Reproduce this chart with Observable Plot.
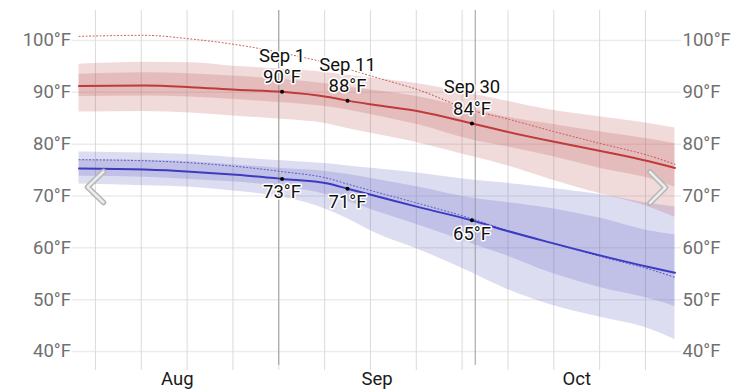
<!DOCTYPE html>
<html><head><meta charset="utf-8">
<script src="https://cdn.jsdelivr.net/npm/d3@7"></script>
<script src="https://cdn.jsdelivr.net/npm/@observablehq/plot@0.6"></script>
<style>
body{margin:0;background:#fff;}
#wrap{position:relative;width:753px;height:392px;overflow:hidden;}
#wrap svg.plot{display:block;}
#nav{position:absolute;left:0;top:0;pointer-events:none;}
</style></head><body><div id="wrap"></div>
<script>
// Daily sample dates (values read at noon)
const dates = ["2023-08-01","2023-08-11","2023-08-18","2023-08-25","2023-09-01","2023-09-08","2023-09-11","2023-09-15","2023-09-22","2023-09-30","2023-10-05","2023-10-12","2023-10-20","2023-10-27","2023-10-31"];
// High temperature series (°F)
const highP90  = [95.4, 95.8, 95.7, 95.0, 94.5, 93.8, 93.3, 92.7, 91.6, 89.7, 88.4, 86.6, 85.2, 84.0, 83.1];
const highP75  = [93.5, 93.8, 93.6, 93.1, 92.5, 91.6, 91.0, 90.4, 89.1, 86.8, 85.3, 83.9, 82.3, 81.0, 80.1];
const highAvg  = [91.2, 91.3, 91.0, 90.5, 90.1, 89.1, 88.4, 87.6, 86.3, 84.0, 82.5, 80.6, 78.6, 76.7, 75.4];
const highP25  = [89.2, 89.3, 89.1, 88.6, 88.0, 87.2, 86.6, 85.6, 83.7, 80.8, 79.6, 77.7, 75.2, 73.4, 71.7];
const highP10  = [86.2, 86.3, 86.0, 85.4, 84.8, 83.9, 83.0, 82.0, 80.2, 77.6, 76.0, 73.2, 70.3, 67.9, 65.9];
const highFeel = [100.8, 101.0, 100.3, 99.2, 97.6, 95.6, 94.5, 93.0, 90.4, 86.5, 85.0, 82.6, 80.0, 77.8, 76.1];
// Low temperature series (°F)
const lowP90  = [78.5, 78.3, 78.0, 77.4, 76.8, 76.2, 75.8, 75.3, 74.4, 73.1, 72.5, 71.5, 70.2, 68.6, 67.9];
const lowP75  = [77.0, 76.9, 76.6, 76.0, 75.3, 74.7, 74.2, 73.3, 71.7, 69.6, 68.8, 67.6, 65.6, 63.3, 62.5];
const lowAvg  = [75.3, 75.1, 74.7, 74.1, 73.3, 72.4, 71.4, 70.1, 67.8, 65.3, 63.4, 61.0, 58.4, 56.3, 55.2];
const lowFeel = [77.0, 76.8, 76.4, 75.7, 74.7, 73.4, 72.3, 70.9, 68.5, 65.6, 63.5, 61.0, 58.2, 55.9, 54.3];
const lowP25  = [73.8, 73.6, 73.2, 72.7, 71.8, 70.2, 69.0, 67.2, 64.3, 60.8, 58.6, 55.2, 52.2, 50.2, 48.7];
const lowP10  = [72.3, 72.0, 71.7, 70.9, 69.8, 67.3, 65.6, 63.0, 59.6, 55.2, 52.2, 49.0, 46.5, 44.4, 42.3];
// Axes
const yTicks = [40, 50, 60, 70, 80, 90, 100];
const monthLabels = ["Aug", "Sep", "Oct"];
const monthMids = ["2023-08-16T12:00:00Z", "2023-09-16T00:00:00Z", "2023-10-16T12:00:00Z"];
const weekGrid = ["2023-08-04","2023-08-11","2023-08-18","2023-08-25","2023-09-01","2023-09-08","2023-09-15","2023-09-22","2023-09-29","2023-10-06","2023-10-13","2023-10-20","2023-10-27"];
const markerDays = ["2023-09-01", "2023-10-01"];
// Annotations
const annDates  = ["2023-09-01", "2023-09-11", "2023-09-30"];
const annLabels = ["Sep 1", "Sep 11", "Sep 30"];
const annHigh   = [90, 88, 84];
const annLow    = [73, 71, 65];

const noon = s => new Date(s + "T12:00:00Z");
const midnight = s => new Date(s + "T00:00:00Z");
const rows = dates.map((d, i) => ({
  date: noon(d),
  hP90: highP90[i], hP75: highP75[i], hAvg: highAvg[i], hP25: highP25[i], hP10: highP10[i], hFeel: highFeel[i],
  lP90: lowP90[i], lP75: lowP75[i], lAvg: lowAvg[i], lP25: lowP25[i], lP10: lowP10[i], lFeel: lowFeel[i]
}));
const ann = annDates.map((d, i) => {
  const k = dates.indexOf(d);
  return {date: noon(d), hi: highAvg[k], lo: lowAvg[k], label: annLabels[i], hiT: annHigh[i] + "°F", loT: annLow[i] + "°F"};
});
const months = monthMids.map((d, i) => ({date: new Date(d), label: monthLabels[i]}));

const HIGH_FILL = "rgb(185,70,70)";
const LOW_FILL = "rgb(85,85,190)";
const HIGH_LINE = "#c0393b";
const LOW_LINE = "#3b3bc2";
const curve = "monotone-x";
const FS = 18.5;

const chart = Plot.plot({
  width: 753,
  height: 392,
  marginLeft: 72,
  marginRight: 72,
  marginTop: 10,
  marginBottom: 22,
  style: {fontFamily: "Roboto, sans-serif", fontSize: FS + "px", background: "white", overflow: "visible"},
  x: {type: "utc", axis: null, domain: [new Date("2023-07-31T12:00:00Z"), new Date("2023-11-01T12:00:00Z")]},
  y: {axis: null, domain: [36.33, 105.79]},
  marks: [
    Plot.gridY(yTicks, {stroke: "#ececec", strokeOpacity: 1, strokeWidth: 1.5}),
    Plot.ruleX(weekGrid.map(midnight), {stroke: "#dadada", strokeOpacity: 1, strokeWidth: 1}),
    Plot.areaY(rows, {x: "date", y1: "lP10", y2: "lP90", fill: LOW_FILL, fillOpacity: 0.2, curve}),
    Plot.areaY(rows, {x: "date", y1: "lP25", y2: "lP75", fill: LOW_FILL, fillOpacity: 0.2, curve}),
    Plot.areaY(rows, {x: "date", y1: "hP10", y2: "hP90", fill: HIGH_FILL, fillOpacity: 0.2, curve}),
    Plot.areaY(rows, {x: "date", y1: "hP25", y2: "hP75", fill: HIGH_FILL, fillOpacity: 0.2, curve}),
    Plot.ruleX(markerDays.map(midnight), {y1: 105.79, y2: 37.3, stroke: "#9a9a9a", strokeWidth: 1}),
    Plot.line(rows, {x: "date", y: "hFeel", stroke: "#cc4a4a", strokeWidth: 1, strokeDasharray: "1,2.5", curve}),
    Plot.line(rows, {x: "date", y: "lFeel", stroke: "#4a4acc", strokeWidth: 1, strokeDasharray: "1,2.5", curve}),
    Plot.line(rows, {x: "date", y: "hAvg", stroke: HIGH_LINE, strokeWidth: 2, curve}),
    Plot.line(rows, {x: "date", y: "lAvg", stroke: LOW_LINE, strokeWidth: 2, curve}),
    Plot.axisY(yTicks, {anchor: "left", tickSize: 0, tickPadding: 1.5, tickFormat: d => d + "°F", fill: "#707070", label: null, fontSize: FS}),
    Plot.axisY(yTicks, {anchor: "right", tickSize: 0, tickPadding: 1, tickFormat: d => d + "°F", fill: "#707070", label: null, fontSize: FS}),
    Plot.text(months, {x: "date", text: "label", frameAnchor: "bottom", lineAnchor: "top", dy: 1.5, fill: "#1a1a1a", fontSize: FS}),
    Plot.dot(ann, {x: "date", y: "hi", r: 2, fill: "black"}),
    Plot.dot(ann, {x: "date", y: "lo", r: 2, fill: "black"}),
    Plot.text(ann, {x: "date", y: "hi", text: "hiT", dy: -14.5, fill: "#111", stroke: "white", strokeWidth: 3, fontSize: FS}),
    Plot.text(ann, {x: "date", y: "hi", text: "label", dy: -36, fill: "#111", stroke: "white", strokeWidth: 3, fontSize: FS}),
    Plot.text(ann, {x: "date", y: "lo", text: "loT", dy: 13.5, fill: "#111", stroke: "white", strokeWidth: 3, fontSize: FS})
  ]
});
const wrap = document.getElementById("wrap");
wrap.appendChild(chart);
// navigation chevrons (UI decoration)
const ns = "http://www.w3.org/2000/svg";
const nav = document.createElementNS(ns, "svg");
nav.setAttribute("id", "nav");
nav.setAttribute("width", 753);
nav.setAttribute("height", 392);
[["103.5,171.5 87.5,187 103.5,202.5"], ["650,172 665.5,187.5 650,203"]].forEach(([pts]) => {
  [["#b5b5b5", 5.5], ["#ececec", 2.5]].forEach(([c, w]) => {
    const p = document.createElementNS(ns, "polyline");
    p.setAttribute("points", pts);
    p.setAttribute("fill", "none");
    p.setAttribute("stroke", c);
    p.setAttribute("stroke-width", w);
    p.setAttribute("stroke-linecap", "round");
    p.setAttribute("stroke-linejoin", "round");
    nav.appendChild(p);
  });
});
wrap.appendChild(nav);
</script></body></html>
